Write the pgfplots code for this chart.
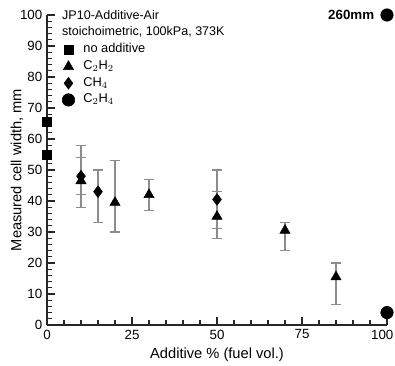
\documentclass[border=0pt]{standalone}
\usepackage{fontspec}
\setmainfont{Liberation Sans}
\usepackage{pgfplots}
\pgfplotsset{compat=1.18}
\begin{document}
\begin{tikzpicture}
\begin{axis}[
  scale only axis,
  width=255pt, height=232.5pt,
  xmin=0, xmax=100, ymin=0, ymax=100,
  axis x line*=bottom,
  axis y line*=left,
  axis line style={-, line width=0.9pt, black!85},
  xtick={0,25,50,75,100},
  xticklabels={0,25,50,75,{\makebox[0.95em][r]{100}}},
  ytick={0,10,...,100},
  minor x tick num=4,
  minor y tick num=4,
  xtick align=inside,
  ytick align=inside,
  major tick length=6pt,
  minor tick length=3.5pt,
  every tick/.style={black!85, line width=0.8pt},
  tick label style={font=\fontsize{10pt}{11pt}\selectfont},
  /pgf/number format/assume math mode=true,
  xlabel={Additive \% (fuel vol.)},
  ylabel={Measured cell width, mm},
  label style={font=\fontsize{11pt}{12pt}\selectfont},
  xlabel style={at={(axis description cs:0.5,-0.097)}, anchor=center},
  ylabel style={at={(axis description cs:-0.088,0.5)}, anchor=center},
  clip=false,
  legend style={draw=none, fill=none, inner sep=0pt, at={(axis cs:4.4,91.5)}, anchor=north west,
    font=\fontsize{9.6pt}{10pt}\selectfont, row sep=0pt, column sep=5pt,
    nodes={inner sep=1.5pt, text height=7pt, text depth=2.5pt}},
  legend cell align=left,
  error bars/error bar style={black!45, line width=0.8pt},
  error bars/error mark options={rotate=90, mark size=4pt, black!45, line width=0.8pt},
]
\coordinate (bl) at (rel axis cs:0,0);
\coordinate (tr) at (rel axis cs:1,1);
\addplot[only marks, mark=square*, mark size=3.3pt, black] coordinates {(0,65.5) (0,55)};
\addlegendentry{no additive}
\addplot[only marks, mark=triangle*, mark size=4.4pt, black,
  error bars/.cd, y dir=both, y explicit] coordinates {
  (10,46.5) += (0,11.5) -= (0,8.5)
  (20,39.5) += (0,13.5) -= (0,9.5)
  (30,42) += (0,5) -= (0,5)
  (50,35) += (0,8) -= (0,7)
  (70,30.5) += (0,2.5) -= (0,6.5)
  (85,15.5) += (0,4.5) -= (0,9)
};
\addlegendentry{C$_2$H$_2$}
\addplot[only marks, mark=diamond*, mark size=4.4pt, black,
  error bars/.cd, y dir=both, y explicit] coordinates {
  (10,48) += (0,6) -= (0,6)
  (15,43) += (0,7) -= (0,10)
  (50,40.5) += (0,9.5) -= (0,9.5)
};
\addlegendentry{CH$_4$}
\addplot[only marks, mark=*, mark size=4.7pt, black] coordinates {(100,4) (100,100)};
\addlegendentry{C$_2$H$_4$}
\node[anchor=east, font=\fontsize{10pt}{11pt}\selectfont\bfseries] at (axis cs:97.6,100) {260mm};
\node[anchor=west, inner sep=0pt, font=\fontsize{9.4pt}{10.5pt}\selectfont] at (axis cs:4.4,100) {JP10-Additive-Air};
\node[anchor=west, inner sep=0pt, font=\fontsize{9.4pt}{10.5pt}\selectfont] at (axis cs:4.4,94.5) {stoichoimetric, 100kPa, 373K};
\end{axis}
\pgfresetboundingbox
\path[use as bounding box] ([xshift=-35.25pt,yshift=-30.75pt]bl) rectangle ([xshift=6pt,yshift=11.25pt]tr);
\end{tikzpicture}
\end{document}
